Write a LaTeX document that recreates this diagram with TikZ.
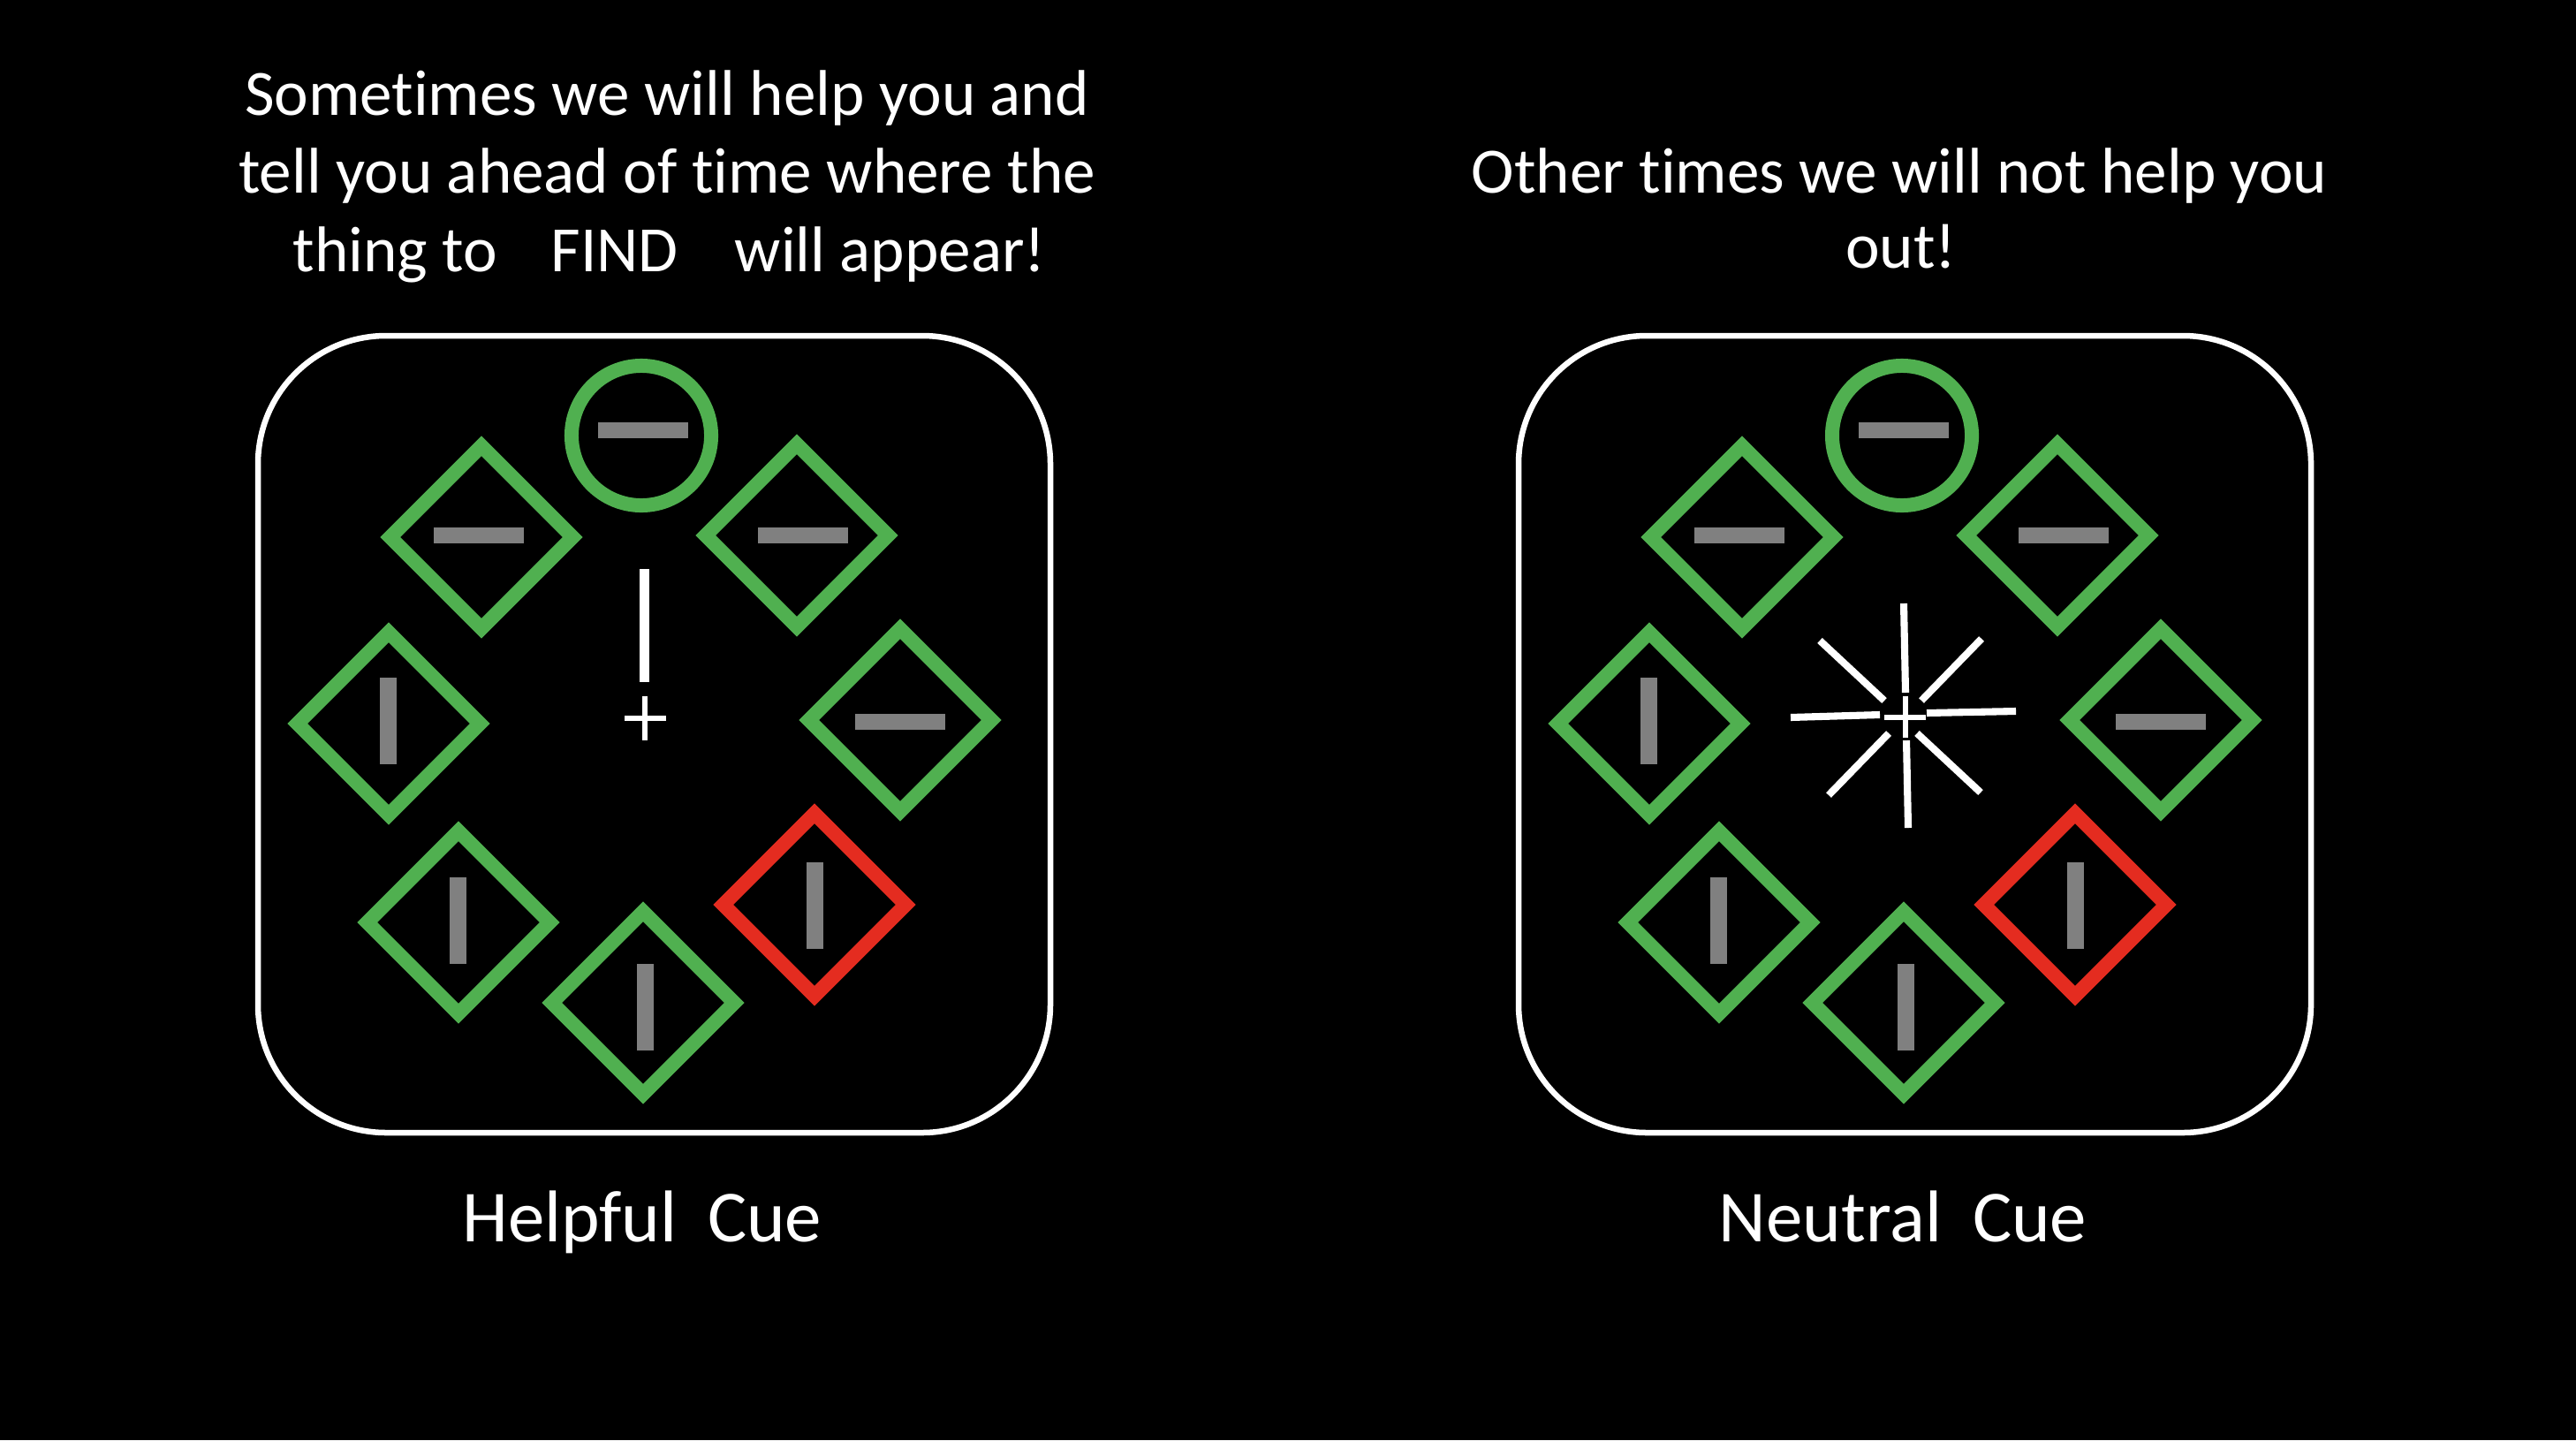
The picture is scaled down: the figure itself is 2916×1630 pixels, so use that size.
\documentclass[tikz,border=0pt]{standalone}
\usepackage{fontspec}
\setmainfont{Carlito}[Ligatures=NoCommon]
\usetikzlibrary{shapes.geometric}
\definecolor{cgreen}{RGB}{80,176,80}
\definecolor{cred}{RGB}{228,44,32}
\definecolor{cbar}{RGB}{128,128,128}
\begin{document}
\begin{tikzpicture}[x=0.01cm,y=-0.01cm,
  stim/.style={diamond, aspect=1, draw=cgreen, line width=4.55pt, minimum size=2.13cm, inner sep=0pt},
  ring/.style={circle, draw=cgreen, line width=4.55pt, minimum size=1.58cm, inner sep=0pt},
  hbar/.style={rectangle, fill=cbar, minimum width=1.02cm, minimum height=0.18cm, inner sep=0pt},
  vbar/.style={rectangle, fill=cbar, minimum width=0.19cm, minimum height=0.97cm, inner sep=0pt},
  frame/.style={draw=white, line width=1.85pt, rounded corners=1.45cm},
  txt/.style={text=white, inner sep=0pt, font=\fontsize{20.8}{25}\selectfont},
  lbl/.style={text=white, inner sep=0pt, font=\fontsize{23.6}{28}\selectfont},
  cue/.style={draw=white, line width=2.3pt},
  fix/.style={draw=white, line width=1.7pt}]
\fill[black] (0,0) rectangle (2916,1630);
\useasboundingbox (0,0) rectangle (2916,1630);

% ---------- texts ----------
\node[txt, anchor=base] (t1) at (755,130) {Sometimes we will help you and};
\node[txt, anchor=base] (t2) at (755,218) {tell you ahead of time where the};
\node[txt, anchor=base west] (t3a) at (331,307) {thing to};
\node[txt, anchor=base west] (t3b) at (623,307) {FIND};
\node[txt, anchor=base west] (t3c) at (831,307) {will appear!};
\node[txt, anchor=base] (r1) at (2150,218) {Other times we will not help you};
\node[txt, anchor=base] (r2) at (2152,303) {out!};
\node[lbl, anchor=base] (lab1) at (727,1405) {Helpful\hspace{0.42em}Cue};
\node[lbl, anchor=base] (lab2) at (2154,1405) {Neutral\hspace{0.42em}Cue};

% ---------- the two displays ----------
\foreach \dx/\p in {0/L,1427/R}{
\begin{scope}[xshift=\dx*0.01cm, name prefix=\p-]
  \draw[frame] (292,380) rectangle (1189,1282);
  \node[ring] (top) at (726,493) {};
  \node[hbar] (btop) at (728,487) {};
  \node[stim] (tl) at (545,608) {};
  \node[hbar] (btl) at (542,606) {};
  \node[stim] (tr) at (902,606) {};
  \node[hbar] (btr) at (909,606) {};
  \node[stim] (l) at (440,819) {};
  \node[vbar] (bl) at (439,816) {};
  \node[stim] (r) at (1019,815) {};
  \node[hbar] (br) at (1019,817) {};
  \node[stim] (bll) at (519,1044) {};
  \node[vbar] (bbll) at (518,1042) {};
  \node[stim] (b) at (728,1135) {};
  \node[vbar] (bb) at (730,1140) {};
  \node[stim, draw=cred] (tgt) at (922,1024) {};
  \node[vbar] (btgt) at (922,1025) {};
\end{scope}
}

% ---------- helpful cue ----------
\coordinate (hc1) at (729.5,644);
\coordinate (hc2) at (729.5,772);
\draw[draw=white, line width=3pt] (hc1) -- (hc2);
\coordinate (hf1) at (707,813); \coordinate (hf2) at (754,813);
\coordinate (hf3) at (730,788); \coordinate (hf4) at (730,838);
\draw[fix] (hf1) -- (hf2) (hf3) -- (hf4);

% ---------- neutral cue ----------
\coordinate (nc) at (2157,812);
\draw[cue] (2155,683) -- (2157,784);
\draw[cue] (2158,838) -- (2160,937);
\draw[cue] (2027,812) -- (2128,809);
\draw[cue] (2181,807) -- (2282,805);
\draw[cue] (2060,725) -- (2133,793);
\draw[cue] (2243,723) -- (2175,793);
\draw[cue] (2070,900) -- (2138,830);
\draw[cue] (2242,897) -- (2170,830);
\draw[fix] (2133,812) -- (2180,812) (2157,788) -- (2157,835);
\end{tikzpicture}
\end{document}
